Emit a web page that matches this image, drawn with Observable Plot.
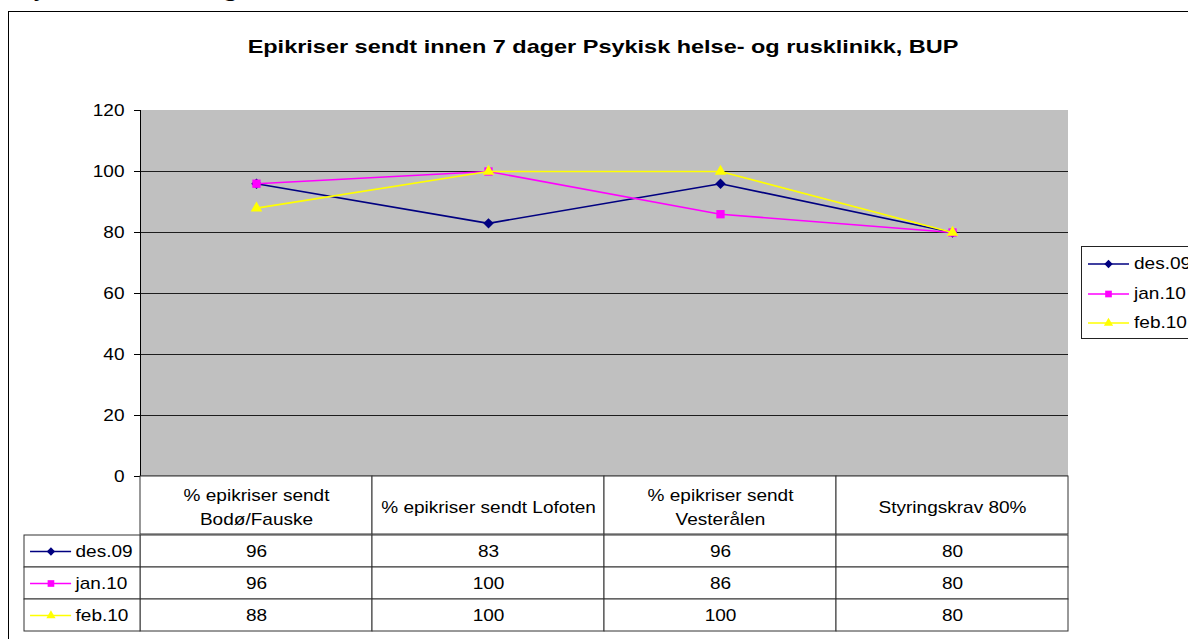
<!DOCTYPE html>
<html><head><meta charset="utf-8">
<script src="https://cdn.jsdelivr.net/npm/d3@7"></script>
<script src="https://cdn.jsdelivr.net/npm/@observablehq/plot@0.6"></script>
<style>
body{margin:0;background:#fff;font-family:"Liberation Sans",Arial,sans-serif;}
#page{position:relative;width:1188px;height:639px;overflow:hidden;background:#fff;}
#top{position:absolute;left:8px;top:-27px;font-family:"Liberation Serif","Times New Roman",serif;font-weight:bold;font-size:24px;line-height:30px;white-space:nowrap;color:#000;transform:scaleX(1.08);transform-origin:left;}
#border{position:absolute;left:8px;top:11px;width:1300px;height:700px;border:1.5px solid #000;box-sizing:border-box;}
#title{position:absolute;left:0;top:36px;width:1206px;text-align:center;font-weight:bold;font-size:19px;line-height:22px;color:#000;transform:scaleX(1.235);transform-origin:603px 0;}
#chart{position:absolute;left:0;top:0;}
#header{position:absolute;left:0;top:475px;}
#body{position:absolute;left:0;top:533px;}
#legend{position:absolute;left:1081px;top:246px;width:200px;height:93px;border:1px solid #222;background:#fff;box-sizing:border-box;}
svg{overflow:visible;}
</style></head><body>
<div id="page">
  <div id="top">Psykisk helsevern og rus</div>
  <div id="border"></div>
  <div id="title">Epikriser sendt innen 7 dager Psykisk helse- og rusklinikk, BUP</div>
  <div id="chart"></div>
  <div id="header"></div>
  <div id="body"></div>
  <div id="legend"></div>
</div>
<script>
// ---- data ----
const categories = ["% epikriser sendt\nBodø/Fauske", "% epikriser sendt Lofoten", "% epikriser sendt\nVesterålen", "Styringskrav 80%"];
const seriesNames = ["des.09", "jan.10", "feb.10"];
const des09 = [96, 83, 96, 80];
const jan10 = [96, 100, 86, 80];
const feb10 = [88, 100, 100, 80];
const yTicks = [0, 20, 40, 60, 80, 100, 120];

const seriesValues = [des09, jan10, feb10];
const colors = ["#000080", "#FF00FF", "#FFFF00"];
const symbols = ["diamond2", "square2", "triangle2"];
const radii = [4.7, 5.3, 5.5];
const font = '"Liberation Sans", Arial, sans-serif';
const stretch = 1.12;

const rows = seriesNames.flatMap((s, si) => seriesValues[si].map((v, ci) => ({series: s, si, col: ci, value: v})));

// widen text horizontally around its anchor, as in the reference rendering
function stretchText(svg, s) {
  svg.querySelectorAll("text").forEach(t => {
    const x = +(t.getAttribute("x") || 0);
    const tr = t.getAttribute("transform") || "";
    t.setAttribute("transform", `${tr} translate(${x},0) scale(${s},1) translate(${-x},0)`);
  });
}

// ---- main chart ----
const chartMarks = [
  Plot.rect([0], {x1: 0, x2: categories.length, y1: 0, y2: 120, fill: "#C0C0C0"}),
  Plot.ruleY(yTicks.filter(t => t > 0 && t < 120), {stroke: "#000", strokeWidth: 1, strokeOpacity: 0.85}),
  Plot.ruleX([0], {y1: 0, y2: 120, stroke: "#000", strokeWidth: 1}),
  Plot.ruleY([0], {x1: 0, x2: categories.length, stroke: "#000", strokeWidth: 1.5})
];
seriesNames.forEach((s, si) => {
  const d = rows.filter(r => r.series === s);
  chartMarks.push(Plot.line(d, {x: r => r.col + 0.5, y: "value", stroke: colors[si], strokeWidth: 1.6}));
  chartMarks.push(Plot.dot(d, {x: r => r.col + 0.5, y: "value", symbol: symbols[si], r: radii[si], fill: colors[si], stroke: "none"}));
});
const chart = Plot.plot({
  width: 1188, height: 480,
  marginLeft: 140, marginRight: 120, marginTop: 110, marginBottom: 4,
  style: {fontFamily: font, fontSize: "17px", color: "#000", background: "transparent", overflow: "visible"},
  x: {domain: [0, categories.length], axis: null},
  y: {domain: [0, 120], ticks: yTicks, tickSize: 6, tickPadding: 10, label: null, tickFormat: d => String(d)},
  marks: chartMarks
});
stretchText(chart, stretch);
document.getElementById("chart").appendChild(chart);

// ---- table header ----
const header = Plot.plot({
  width: 1188, height: 60,
  marginLeft: 24, marginRight: 120, marginTop: 1, marginBottom: 1,
  style: {fontFamily: font, fontSize: "17px", color: "#000", background: "transparent", overflow: "visible"},
  x: {domain: [-0.5, categories.length], axis: null},
  marks: [
    Plot.rect(categories, {x1: (d, i) => i, x2: (d, i) => i + 1, fill: "#fff", stroke: "#333", strokeWidth: 1}),
    Plot.text(categories, {x: (d, i) => i + 0.5, text: d => d, fontSize: 17, lineHeight: 1.42, fill: "#000", frameAnchor: "middle"})
  ]
});
stretchText(header, stretch);
document.getElementById("header").appendChild(header);

// ---- table body ----
const legendCells = seriesNames.map((s, si) => ({series: s, si}));
const bodyMarks = [
  Plot.barX(rows, {x1: d => d.col, x2: d => d.col + 1, y: "series", fill: "#fff", stroke: "#333", strokeWidth: 1, inset: 0}),
  Plot.barX(legendCells, {x1: -0.5, x2: 0, y: "series", fill: "#fff", stroke: "#333", strokeWidth: 1, inset: 0}),
  Plot.text(rows, {x: d => d.col + 0.5, y: "series", text: d => String(d.value), fontSize: 17, fill: "#000"})
];
legendCells.forEach(c => {
  bodyMarks.push(Plot.ruleY([c], {y: "series", x1: -0.474, x2: -0.297, stroke: colors[c.si], strokeWidth: 1.3}));
  bodyMarks.push(Plot.dot([c], {y: "series", x: -0.386, symbol: symbols[c.si], r: radii[c.si] * 0.8, fill: colors[c.si], stroke: "none"}));
  bodyMarks.push(Plot.text([c], {y: "series", x: -0.28, text: "series", textAnchor: "start", fontSize: 17, fill: "#000"}));
});
const body = Plot.plot({
  width: 1188, height: 101,
  marginLeft: 24, marginRight: 120, marginTop: 1, marginBottom: 2,
  style: {fontFamily: font, fontSize: "17px", color: "#000", background: "transparent", overflow: "visible"},
  x: {domain: [-0.5, categories.length], axis: null},
  y: {domain: seriesNames, type: "band", padding: 0, axis: null},
  marks: bodyMarks
});
stretchText(body, stretch);
document.getElementById("body").appendChild(body);

// ---- right legend ----
const legend = d3.select("#legend");
const symbolTypes = [d3.symbolDiamond2, d3.symbolSquare2, d3.symbolTriangle2];
seriesNames.forEach((s, si) => {
  const row = legend.append("div").style("position", "absolute").style("left", "6px").style("top", (5 + si * 29.5) + "px")
    .style("height", "24px").style("display", "flex").style("align-items", "center");
  const svg = row.append("svg").attr("width", 41).attr("height", 24).style("display", "block");
  svg.append("line").attr("x1", 0).attr("x2", 41).attr("y1", 12).attr("y2", 12).attr("stroke", colors[si]).attr("stroke-width", 1.3);
  svg.append("path").attr("transform", "translate(20.5,12)")
    .attr("d", d3.symbol(symbolTypes[si], Math.PI * (radii[si] * 0.8) ** 2)()).attr("fill", colors[si]);
  row.append("span").text(s).style("font-size", "17px").style("margin-left", "5px").style("color", "#000")
    .style("display", "inline-block").style("transform", `scaleX(${stretch})`).style("transform-origin", "left");
});
</script>
</body></html>
